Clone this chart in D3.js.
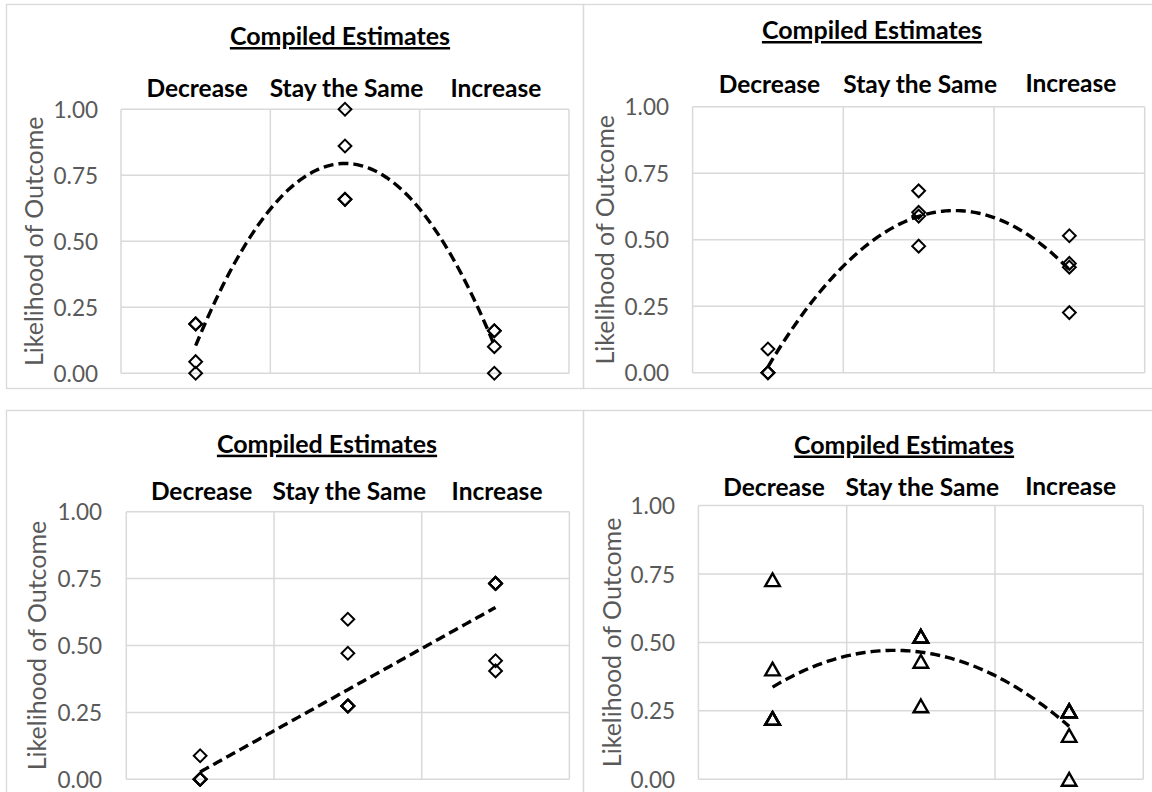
<!DOCTYPE html>
<html>
<head>
<meta charset="utf-8">
<script src="https://cdn.jsdelivr.net/npm/d3@7"></script>
<style>
  html, body { margin: 0; padding: 0; background: #ffffff; }
  svg { display: block; }
  text { font-family: Lato, "Open Sans", "Liberation Sans", sans-serif; }
</style>
</head>
<body>
<svg id="chart" width="1152" height="792"></svg>
<script>
// ---------------- data ----------------
const categories = ["Decrease", "Stay the Same", "Increase"];
const yTickValues = [0, 0.25, 0.5, 0.75, 1];
const chartTitle = "Compiled Estimates";
const yAxisTitle = "Likelihood of Outcome";

// Panel A (top-left) – diamonds, polynomial (order 2) trend
const panelA_decrease = [0.187, 0.187, 0.044, 0.0];
const panelA_stay     = [1.0, 0.861, 0.659, 0.659];
const panelA_increase = [0.161, 0.161, 0.101, 0.0];

// Panel B (top-right) – diamonds, polynomial (order 2) trend
const panelB_decrease = [0.089, 0.0, 0.0, 0.0];
const panelB_stay     = [0.684, 0.603, 0.589, 0.476];
const panelB_increase = [0.226, 0.397, 0.411, 0.515];

// Panel C (bottom-left) – diamonds, linear trend
const panelC_decrease = [0.088, 0.0, 0.0, 0.0, 0.0, 0.0];
const panelC_stay     = [0.471, 0.598, 0.274, 0.274, 0.274, 0.274];
const panelC_increase = [0.443, 0.405, 0.732, 0.732, 0.732, 0.732];

// Panel D (bottom-right) – triangles, polynomial (order 2) trend
const panelD_decrease = [0.729, 0.403, 0.222, 0.222, 0.222, 0.222];
const panelD_stay     = [0.268, 0.431, 0.522, 0.522, 0.522, 0.522];
const panelD_increase = [0.0, 0.16, 0.25, 0.25, 0.25, 0.25];

// ---------------- layout ----------------
const panels = [
  { values: [panelA_decrease, panelA_stay, panelA_increase], marker: "diamond", order: 2,
    frame: [6, 4, 583, 388], plot: { l: 121, r: 569, t: 109.3, b: 373.3 },
    title: { x: 340, y: 45 }, catY: [96.7, 96.7, 96.7], tickRight: 98, yTitleX: 43 },
  { values: [panelB_decrease, panelB_stay, panelB_increase], marker: "diamond", order: 2,
    frame: [583, 4, 1162, 388], plot: { l: 692.6, r: 1144.7, t: 106.8, b: 372.7 },
    title: { x: 872, y: 39 }, catY: [93.3, 93.3, 91.7], tickRight: 669, yTitleX: 614 },
  { values: [panelC_decrease, panelC_stay, panelC_increase], marker: "diamond", order: 1,
    frame: [6, 410, 583, 812], plot: { l: 126.3, r: 569.4, t: 511.7, b: 779.3 },
    title: { x: 327, y: 452.7 }, catY: [500, 500, 500], tickRight: 102, yTitleX: 46 },
  { values: [panelD_decrease, panelD_stay, panelD_increase], marker: "triangle", order: 2,
    frame: [583, 410, 1162, 812], plot: { l: 698.4, r: 1143.3, t: 505.5, b: 779.3 },
    title: { x: 904, y: 453.5 }, catY: [496, 496, 494.5], tickRight: 675, yTitleX: 621 }
];

const svg = d3.select("#chart");
const gridColor = "#d9d9d9";
const tickColor = "#595959";

// least-squares polynomial fit (normal equations, Gaussian elimination)
function polyFit(points, order) {
  const n = order + 1;
  const A = Array.from({ length: n }, () => new Array(n).fill(0));
  const B = new Array(n).fill(0);
  points.forEach(([x, y]) => {
    for (let i = 0; i < n; i++) {
      for (let j = 0; j < n; j++) A[i][j] += Math.pow(x, i + j);
      B[i] += y * Math.pow(x, i);
    }
  });
  for (let c = 0; c < n; c++) {
    let p = c;
    for (let r = c + 1; r < n; r++) if (Math.abs(A[r][c]) > Math.abs(A[p][c])) p = r;
    [A[c], A[p]] = [A[p], A[c]]; [B[c], B[p]] = [B[p], B[c]];
    for (let r = c + 1; r < n; r++) {
      const f = A[r][c] / A[c][c];
      for (let k = c; k < n; k++) A[r][k] -= f * A[c][k];
      B[r] -= f * B[c];
    }
  }
  const coef = new Array(n).fill(0);
  for (let r = n - 1; r >= 0; r--) {
    let s = B[r];
    for (let k = r + 1; k < n; k++) s -= A[r][k] * coef[k];
    coef[r] = s / A[r][r];
  }
  return x => coef.reduce((acc, c, i) => acc + c * Math.pow(x, i), 0);
}

function markerPath(type) {
  if (type === "triangle") {
    const w = 14.6, h = 12.8;
    return `M0,${-h / 2}L${w / 2},${h / 2}L${-w / 2},${h / 2}Z`;
  }
  const r = 6.4;
  return `M0,${-r}L${r},0L0,${r}L${-r},0Z`;
}

panels.forEach(p => {
  const g = svg.append("g");
  const [fx0, fy0, fx1, fy1] = p.frame;
  g.append("rect")
    .attr("x", fx0 + 0.5).attr("y", fy0 + 0.5)
    .attr("width", fx1 - fx0).attr("height", fy1 - fy0)
    .attr("fill", "none").attr("stroke", gridColor).attr("stroke-width", 1.3);

  const x = d3.scaleLinear().domain([0.5, categories.length + 0.5]).range([p.plot.l, p.plot.r]);
  const y = d3.scaleLinear().domain([0, 1]).range([p.plot.b, p.plot.t]);

  // horizontal gridlines
  g.append("g").selectAll("line").data(yTickValues).join("line")
    .attr("x1", p.plot.l).attr("x2", p.plot.r)
    .attr("y1", d => y(d)).attr("y2", d => y(d))
    .attr("stroke", gridColor).attr("stroke-width", 1.5);
  // vertical gridlines (category boundaries)
  const bounds = d3.range(0, categories.length + 1).map(i => i + 0.5);
  g.append("g").selectAll("line").data(bounds).join("line")
    .attr("x1", d => x(d)).attr("x2", d => x(d))
    .attr("y1", p.plot.t).attr("y2", p.plot.b)
    .attr("stroke", gridColor).attr("stroke-width", 1.5);

  // y axis ticks
  const yAxis = d3.axisLeft(y).tickValues(yTickValues).tickFormat(d3.format(".2f")).tickSize(0).tickPadding(0);
  const ya = g.append("g").attr("transform", `translate(${p.tickRight},0)`).call(yAxis);
  ya.select(".domain").remove();
  ya.selectAll("text").attr("fill", tickColor).style("font-size", "22.5px")
    .attr("dy", "0.36em").attr("x", 0);

  // y axis title
  g.append("text")
    .attr("transform", `translate(${p.yTitleX},${(p.plot.t + p.plot.b) / 2}) rotate(-90)`)
    .attr("text-anchor", "middle")
    .attr("fill", tickColor).style("font-size", "25px")
    .text(yAxisTitle);

  // category labels (top)
  g.append("g").selectAll("text").data(categories).join("text")
    .attr("x", (d, i) => x(i + 1) + 1.5)
    .attr("y", (d, i) => p.catY[i])
    .attr("text-anchor", "middle")
    .style("font-size", "24.5px").style("font-weight", "700").attr("fill", "#000")
    .text(d => d);

  // title
  g.append("text")
    .attr("x", p.title.x).attr("y", p.title.y)
    .attr("text-anchor", "middle")
    .style("font-size", "25px").style("font-weight", "700")
    .style("text-decoration", "underline").attr("fill", "#000")
    .text(chartTitle);

  // points
  const pts = [];
  p.values.forEach((arr, i) => arr.forEach(v => pts.push([i + 1, v])));
  g.append("g").selectAll("path").data(pts).join("path")
    .attr("d", markerPath(p.marker))
    .attr("transform", d => `translate(${x(d[0])},${y(d[1])})`)
    .attr("fill", "none").attr("stroke", "#000").attr("stroke-width", p.marker === "triangle" ? 2.4 : 2)
    .attr("stroke-linejoin", "miter");

  // trend line (least squares)
  const f = polyFit(pts, p.order);
  const xs = d3.range(1, categories.length + 0.0001, 0.02);
  const line = d3.line().x(d => x(d)).y(d => y(f(d)));
  g.append("path").datum(xs).attr("d", line)
    .attr("fill", "none").attr("stroke", "#000").attr("stroke-width", 3.4)
    .attr("stroke-dasharray", "10,5");
});
</script>
</body>
</html>
